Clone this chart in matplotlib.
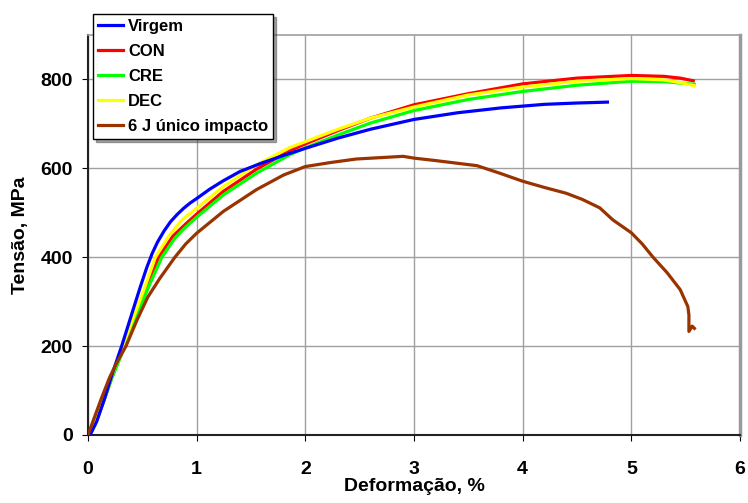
import matplotlib
matplotlib.use("Agg")
import matplotlib.pyplot as plt

plt.rcParams['font.family'] = ['Liberation Sans', 'DejaVu Sans']
plt.rcParams['font.weight'] = 'bold'

# Curvas tensão x deformação
virgem_x = [0.02, 0.08, 0.15, 0.22, 0.31, 0.4, 0.48, 0.54, 0.59, 0.64, 0.7, 0.76, 0.82, 0.88, 0.94,
            1.0, 1.12, 1.245, 1.4, 1.6, 1.8, 2.0, 2.3, 2.6, 3.0, 3.4, 3.8, 4.2, 4.5, 4.78]
virgem_y = [0, 30, 80, 135, 200, 270, 332, 376, 408, 434, 459, 480, 496, 510, 522,
            532, 553, 572, 593, 612, 629, 645, 668, 688, 710, 725, 736, 744, 747, 749]

con_x = [0, 0.08, 0.15, 0.22, 0.33, 0.43, 0.54, 0.65, 0.78, 0.9, 1.0, 1.245, 1.55, 1.86, 2.0, 2.3,
         2.6, 3.0, 3.5, 4.0, 4.5, 5.0, 5.3, 5.45, 5.57]
con_y = [0, 33, 80, 130, 200, 265, 332, 400, 447, 475, 497, 548, 598, 640, 655, 685,
         713, 743, 768, 790, 803, 809, 807, 803, 797]

cre_x = [0, 0.08, 0.15, 0.22, 0.34, 0.44, 0.56, 0.68, 0.8, 0.9, 1.0, 1.245, 1.55, 1.86, 2.0, 2.3,
         2.6, 3.0, 3.5, 4.0, 4.5, 5.0, 5.3, 5.45, 5.58]
cre_y = [0, 33, 80, 128, 200, 262, 335, 400, 443, 468, 490, 540, 589, 631, 646, 675,
         702, 730, 755, 773, 787, 796, 795, 792, 789]

dec_x = [0, 0.08, 0.15, 0.22, 0.32, 0.42, 0.52, 0.62, 0.75, 0.87, 1.0, 1.245, 1.55, 1.86, 2.0, 2.3,
         2.6, 3.0, 3.5, 4.0, 4.5, 5.0, 5.3, 5.45, 5.58]
dec_y = [0, 35, 85, 135, 200, 265, 330, 400, 450, 485, 510, 559, 608, 647, 660, 688,
         713, 738, 765, 783, 796, 802, 799, 793, 786]

imp_x = [0, 0.06, 0.12, 0.2, 0.27, 0.35, 0.45, 0.55, 0.66, 0.8, 0.9, 1.0, 1.245, 1.55, 1.8, 2.0,
         2.23, 2.47, 2.9, 3.0, 3.18, 3.58, 3.79, 4.0, 4.2, 4.4, 4.55, 4.71, 4.83, 5.0,
         5.1, 5.2, 5.33, 5.45, 5.52, 5.53, 5.53, 5.56, 5.58]
imp_y = [0, 40, 80, 130, 165, 200, 258, 310, 352, 400, 430, 454, 503, 552, 585, 604,
         613, 621, 627, 623, 618, 606, 589, 571, 557, 544, 530, 511, 484, 455,
         430, 400, 365, 327, 289, 270, 233, 245, 240]

fig = plt.figure(figsize=(7.48, 5.03), dpi=100)
ax = fig.add_axes([0.1176, 0.1352, 0.8717, 0.7952])

lw = 2.3
ax.plot(virgem_x, virgem_y, color='#0000FF', lw=lw, label='Virgem', zorder=6)
ax.plot(con_x, con_y, color='#FF0000', lw=lw, label='CON', zorder=3)
ax.plot(cre_x, cre_y, color='#00FF00', lw=lw, label='CRE', zorder=4)
ax.plot(dec_x, dec_y, color='#FFFF00', lw=lw, label='DEC', zorder=5)
ax.plot(imp_x, imp_y, color='#993300', lw=lw, label='6 J único impacto', zorder=7)

ax.set_xlim(0, 6)
ax.set_ylim(0, 900)
ax.set_xticks([0, 1, 2, 3, 4, 5, 6])
ax.set_yticks([0, 200, 400, 600, 800])
ax.grid(True, color='#a0a0a0', lw=1)
ax.set_axisbelow(True)

for s in ['left', 'bottom']:
    ax.spines[s].set_color('#222222')
    ax.spines[s].set_linewidth(1.5)
ax.spines['top'].set_color('#a0a0a0')
ax.spines['top'].set_linewidth(1.2)
ax.spines['right'].set_color('#999999')
ax.spines['right'].set_linewidth(2.5)

ax.tick_params(axis='x', direction='out', length=4, pad=15, labelsize=14, colors='black')
ax.tick_params(axis='y', direction='out', length=4, pad=7, labelsize=14, colors='black')

ax.set_xlabel('Deformação, %', fontsize=14, fontweight='bold', labelpad=0)
ax.set_ylabel('Tensão, MPa', fontsize=14, fontweight='bold', labelpad=8)

leg = ax.legend(loc='upper left', bbox_to_anchor=(0.008, 1.053), borderaxespad=0,
                frameon=True, fancybox=False, shadow=True, framealpha=1,
                edgecolor='black', handlelength=1.5, handletextpad=0.3,
                labelspacing=0.6, borderpad=0.3, prop={'size': 12, 'weight': 'bold'})
leg.get_frame().set_linewidth(1.0)
leg.set_zorder(10)

fig.savefig('out.png', dpi=100)
